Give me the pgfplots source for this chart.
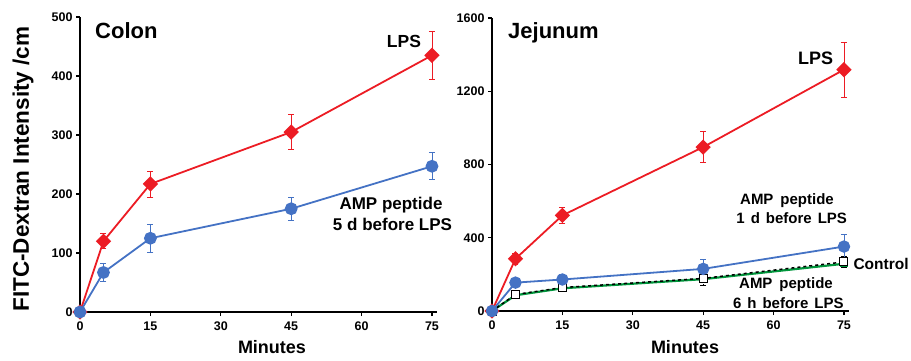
\documentclass[border=0pt]{standalone}
\usepackage{fontspec}
\setmainfont{Liberation Sans}
\usepackage{pgfplots}
\pgfplotsset{compat=1.18}
\definecolor{lpsred}{RGB}{236,28,36}
\definecolor{ampblue}{RGB}{68,114,196}
\definecolor{ctlgreen}{RGB}{0,150,60}
\pgfplotsset{
  panel/.style={
    scale only axis,
    axis lines=left,
    axis line style={line width=1.8pt,-},
    x=4.693pt,
    xmin=0, xmax=76,
    xtick={0,15,30,45,60,75},
    ymin=0,
    tick style={black,line width=1.2pt},
    major tick length=4pt,
    tick align=outside,
    tick label style={font=\fontsize{12.5}{13}\selectfont\bfseries},
    /pgf/number format/assume math mode=true,
    /pgf/number format/1000 sep={},
    xticklabel style={yshift=-2pt},
    clip=false,
  },
  eb/.style={error bars/.cd, y dir=both, y explicit, error bar style={line width=0.9pt}, error mark options={rotate=90,mark size=3pt,line width=0.9pt}},
}
\begin{document}
\begin{tikzpicture}[x=1pt,y=1pt]
\useasboundingbox (0,0) rectangle (911,360);
% ---------- Colon ----------
\begin{axis}[panel, at={(80pt,48pt)}, anchor=origin,
  height=295pt, ymax=500, ytick={0,100,...,500}]
\addplot[lpsred, line width=1.8pt, mark=square*, mark size=4.5pt, mark options={rotate=45,solid}, eb]
  coordinates {(0,0) +- (0,0) (5,120) +- (0,13) (15,217) +- (0,22) (45,305) +- (0,30) (75,435) +- (0,40)};
\addplot[ampblue, line width=1.8pt, mark=*, mark size=5.5pt, eb]
  coordinates {(0,0) +- (0,0) (5,67) +- (0,15) (15,125) +- (0,24) (45,175) +- (0,20) (75,247) +- (0,23)};
\end{axis}
% ---------- Jejunum ----------
\begin{axis}[panel, at={(492pt,49pt)}, anchor=origin,
  height=293pt, ymax=1600, ytick={0,400,800,1200,1600}]
\addplot[ctlgreen, line width=2.2pt, mark=square*, mark size=2.5pt]
  coordinates {(0,0) (5,86) (15,124) (45,174) (75,258)};
\addplot[black, dashed, line width=1.5pt, mark=square*, mark size=4pt, mark options={solid, fill=white, draw=black, line width=1pt}, eb]
  coordinates {(0,0) +- (0,0) (5,90) +- (0,12) (15,128) +- (0,12) (45,178) +- (0,40) (75,268) +- (0,30)};
\addplot[lpsred, line width=1.8pt, mark=square*, mark size=4.5pt, mark options={rotate=45,solid}, eb]
  coordinates {(0,0) +- (0,0) (5,285) +- (0,30) (15,522) +- (0,45) (45,895) +- (0,85) (75,1318) +- (0,150)};
\addplot[ampblue, line width=1.8pt, mark=*, mark size=5.3pt, eb]
  coordinates {(0,0) +- (0,0) (5,155) +- (0,12) (15,172) +- (0,30) (45,230) +- (0,50) (75,352) +- (0,65)};
\end{axis}
% ---------- Text ----------
\node[rotate=90, font=\fontsize{22.5}{24}\selectfont\bfseries, anchor=center] at (23,191) {FITC-Dextran Intensity /cm};
\node[font=\fontsize{18}{20}\selectfont\bfseries, anchor=base] at (272,7) {Minutes};
\node[font=\fontsize{18}{20}\selectfont\bfseries, anchor=base] at (685,7) {Minutes};
\node[font=\fontsize{22}{24}\selectfont\bfseries, anchor=base west, inner sep=0pt] at (95,321.7) {Colon};
\node[font=\fontsize{22}{24}\selectfont\bfseries, anchor=base west, inner sep=0pt] at (508,321.7) {Jejunum};
\node[font=\fontsize{17.5}{19}\selectfont\bfseries, anchor=base west, inner sep=0pt] at (386.7,312.3) {LPS};
\node[font=\fontsize{18}{19}\selectfont\bfseries, anchor=base west, inner sep=0pt] at (798,296) {LPS};
\node[font=\fontsize{17}{19}\selectfont\bfseries, anchor=base, inner sep=0pt] at (391,151) {AMP peptide};
\node[font=\fontsize{17}{19}\selectfont\bfseries, anchor=base, inner sep=0pt] at (392.5,129.3) {5 d before LPS};
\node[font=\fontsize{15}{17}\selectfont\bfseries, anchor=base, inner sep=0pt] at (787,156) {AMP\hspace{7pt}peptide};
\node[font=\fontsize{15}{17}\selectfont\bfseries, anchor=base, inner sep=0pt] at (791.7,136.7) {1\hspace{6pt}d\hspace{6pt}before\hspace{6pt}LPS};
\node[font=\fontsize{15.5}{17}\selectfont\bfseries, anchor=base west, inner sep=0pt] at (853.3,90.7) {Control};
\node[font=\fontsize{15}{17}\selectfont\bfseries, anchor=base, inner sep=0pt] at (786,71.7) {AMP\hspace{7pt}peptide};
\node[font=\fontsize{15}{17}\selectfont\bfseries, anchor=base, inner sep=0pt] at (788.3,51.7) {6\hspace{6pt}h\hspace{6pt}before\hspace{6pt}LPS};
\end{tikzpicture}
\end{document}
